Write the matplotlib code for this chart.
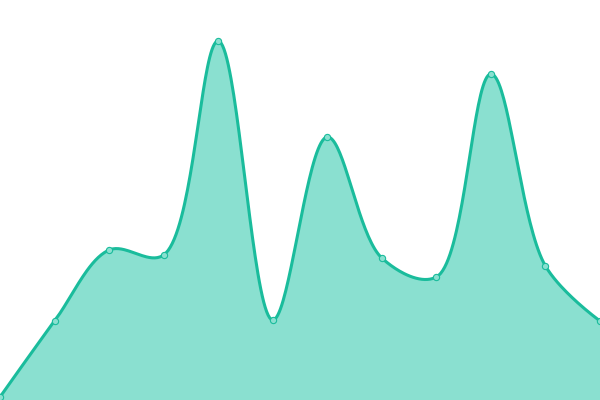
import matplotlib
matplotlib.use("Agg")
import matplotlib.pyplot as plt
import numpy as np

# values (bottom = 0, top = 400)
x_vals = list(range(12))
y_vals = [3, 79, 150, 145, 359, 80, 263, 142, 123, 326, 134, 79]

line_color = "#1abc9c"
fill_color = "#8ae0d0"


def catmull_rom(pts, alpha=0.5, steps=40):
    # centripetal catmull-rom (same as d3.curveCatmullRom), works in pixel space
    pts = np.asarray(pts, float)
    n = len(pts)
    t = np.linspace(0, 1, steps)[:, None]
    out = []
    for i in range(n - 1):
        p1, p2 = pts[i], pts[i + 1]
        p0 = pts[i - 1] if i > 0 else None
        p3 = pts[i + 2] if i + 2 < n else None
        l12 = np.hypot(*(p2 - p1)) ** alpha
        c1 = p1.copy()
        c2 = p2.copy()
        if p0 is not None:
            l01 = np.hypot(*(p1 - p0)) ** alpha
            a = 2 * l01 ** 2 + 3 * l01 * l12 + l12 ** 2
            m = 3 * l01 * (l01 + l12)
            c1 = (p1 * a - p0 * l12 ** 2 + p2 * l01 ** 2) / m
        if p3 is not None:
            l23 = np.hypot(*(p3 - p2)) ** alpha
            b = 2 * l23 ** 2 + 3 * l23 * l12 + l12 ** 2
            m = 3 * l23 * (l23 + l12)
            c2 = (p2 * b + p1 * l23 ** 2 - p3 * l12 ** 2) / m
        seg = (1 - t) ** 3 * p1 + 3 * (1 - t) ** 2 * t * c1 + 3 * (1 - t) * t ** 2 * c2 + t ** 3 * p2
        out.append(seg)
    return np.vstack(out)


fig = plt.figure(figsize=(6, 4), dpi=100)
ax = fig.add_axes([0, 0, 1, 1])
ax.set_xlim(0, 11)
ax.set_ylim(0, 400)
ax.axis("off")

pix = ax.transData.transform(np.column_stack([x_vals, y_vals]))
curve = ax.transData.inverted().transform(catmull_rom(pix))
sx, sy = curve[:, 0], curve[:, 1]

ax.fill_between(sx, sy, 0, color=fill_color, lw=0)
ax.plot(sx, sy, color=line_color, lw=2.2, solid_capstyle="round")
ax.plot(x_vals, y_vals, "o", ms=4.5, mfc=fill_color, mec=line_color, mew=0.8)

fig.savefig("out.png", dpi=100)
